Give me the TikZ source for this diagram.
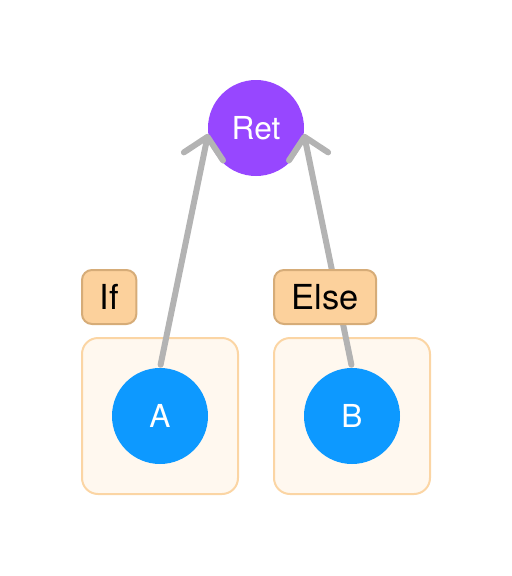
\documentclass[tikz,border=0pt]{standalone}
\usepackage{fontspec}
\setmainfont{TeX Gyre Heros}
\usepackage{tikz}
\usetikzlibrary{arrows.meta}
\usetikzlibrary{positioning}

\definecolor{retpurple}{HTML}{9747FF}
\definecolor{leafblue}{HTML}{0D99FF}
\definecolor{labelfill}{HTML}{FCD19C}
\definecolor{labeldraw}{HTML}{D6AC78}
\definecolor{boxfill}{HTML}{FFF8EF}
\definecolor{boxdraw}{HTML}{FBD5A4}
\definecolor{edgegray}{HTML}{B3B3B3}

\tikzset{
    circnode/.style={circle, minimum size=2.4cm, inner sep=0pt, text=white,
        font=\fontsize{22.5}{26}\selectfont},
    retnode/.style={circnode, fill=retpurple},
    leafnode/.style={circnode, fill=leafblue},
    groupbox/.style={rectangle, rounded corners=0.4cm, fill=boxfill, draw=boxdraw,
        line width=0.05cm, minimum width=3.9cm, minimum height=3.9cm, outer sep=0pt},
    grouplabel/.style={rectangle, rounded corners=0.25cm, fill=labelfill, draw=labeldraw,
        line width=0.05cm, minimum height=1.35cm, inner xsep=0.44cm, outer sep=0pt,
        font=\fontsize{24.5}{29}\selectfont},
    edge/.style={draw=edgegray, line width=0.15cm, line cap=round,
        -{Straight Barb[length=0.5cm, width=1cm, round]}, shorten <=0.075cm}
}

\begin{document}
\begin{tikzpicture}
            \useasboundingbox (0, 0) rectangle (12.8, -14.4);

            \node[groupbox] (ifbox) at (4.0, -10.4) {};
            \node[groupbox] (elsebox) at (8.8, -10.4) {};

            \node[retnode] (ret) at (6.4, -3.2) {Ret};
            \node[leafnode] (a) at (4.0, -10.4) {A};
            \node[leafnode] (b) at (8.8, -10.4) {B};

            \draw[edge] (a.north) -- (ret.187);
            \draw[edge] (b.north) -- (ret.-7);

            \node[grouplabel, anchor=south west] (iflabel) at ([yshift=0.35cm]ifbox.north west) {If};
            \node[grouplabel, anchor=south west] (elselabel) at ([yshift=0.35cm]elsebox.north west) {Else};

        \end{tikzpicture}
\end{document}
